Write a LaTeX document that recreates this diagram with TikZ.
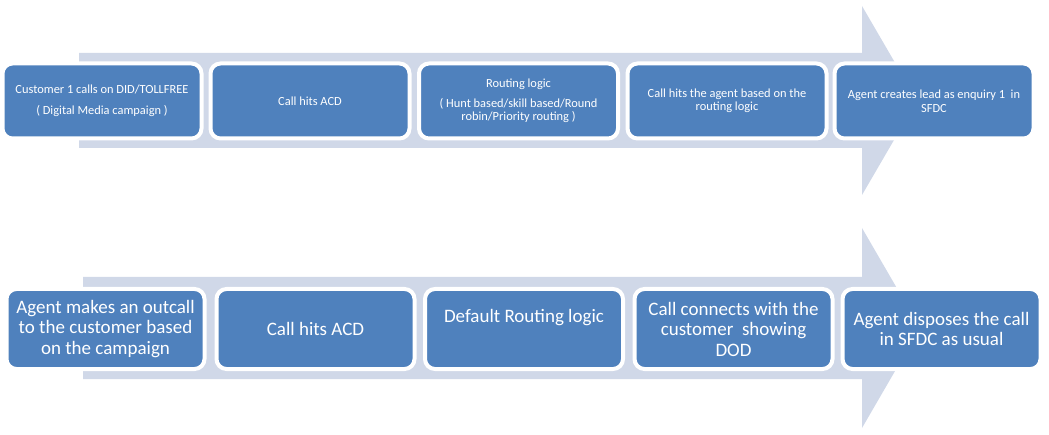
\documentclass[tikz,border=0pt]{standalone}
\usepackage{fontspec}
\setmainfont{Carlito}

\definecolor{boxblue}{HTML}{4F81BD}
\definecolor{bandgrey}{HTML}{D0D8E8}

\tikzset{
  stage/.style={draw=white, line width=4pt, fill=boxblue, rounded corners=10pt,
    text=white, align=center, inner sep=0pt, outer sep=0pt},
  topstage/.style={stage, minimum width=199pt, minimum height=75pt,
    font=\fontsize{12.4}{13.5}\selectfont},
  lowstage/.style={stage, minimum width=198pt, minimum height=80pt,
    font=\fontsize{19}{20.5}\selectfont},
  band/.style={fill=bandgrey}
}

\begin{document}
\begin{tikzpicture}[x=1pt,y=-1pt]
          \useasboundingbox (0,0) rectangle (1049,435);

          % incoming call flow
          \fill[band] (79,53) -- (862,53) -- (862,6) -- (917,100.5)
                -- (862,195) -- (862,148) -- (79,148) -- cycle;

          \node[topstage] (in1) at (102,101) {Customer 1 calls on DID/TOLLFREE\\[8pt]( Digital Media campaign )};
          \node[topstage] (in2) at (310,101) {Call hits ACD};
          \node[topstage] (in3) at (518.5,101) {Routing logic\\[6pt]( Hunt based/skill based/Round\\robin/Priority routing )};
          \node[topstage] (in4) at (727,101) {Call hits the agent based on the\\routing logic};
          \node[topstage] (in5) at (934,101) {Agent creates lead as enquiry 1\ \ in\\SFDC};

          % outgoing call flow
          \fill[band] (83,277) -- (862,277) -- (862,228) -- (920,328)
                -- (862,428) -- (862,379) -- (83,379) -- cycle;

          \node[lowstage] (out1) at (105.5,329) {Agent makes an outcall\\to the customer based\\on the campaign};
          \node[lowstage] (out2) at (315.5,329) {Call hits ACD};
          \node[lowstage] (out3) at (524,329) {Default Routing logic\\[6pt]\mbox{}};
          \node[lowstage] (out4) at (733.5,329) {Call connects with the\\customer\ \ showing\\DOD};
          \node[lowstage] (out5) at (941.5,329) {Agent disposes the call\\in SFDC as usual};
        \end{tikzpicture}
\end{document}
